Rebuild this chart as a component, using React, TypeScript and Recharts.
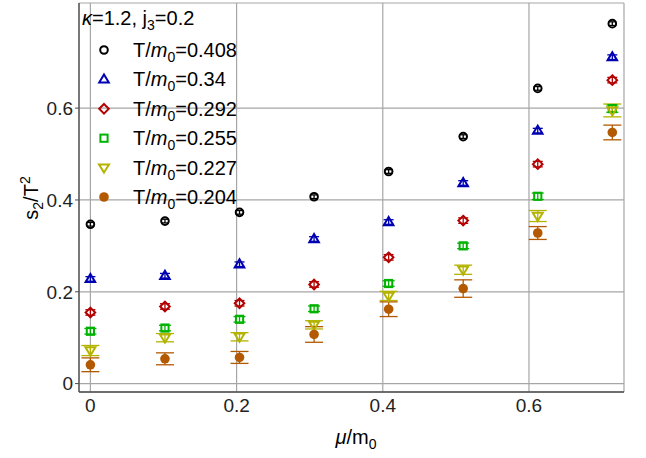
import React from "react";
import {
  ScatterChart,
  Scatter,
  XAxis,
  YAxis,
  CartesianGrid,
  ErrorBar,
  Legend,
} from "recharts";

const mu = [0, 0.102, 0.204, 0.306, 0.408, 0.51, 0.612, 0.714];

const s408 = [0.347, 0.354, 0.373, 0.407, 0.462, 0.538, 0.643, 0.784];
const s340 = [0.228, 0.235, 0.26, 0.315, 0.352, 0.437, 0.551, 0.711];
const s292 = [0.155, 0.168, 0.175, 0.216, 0.275, 0.355, 0.478, 0.661];
const s255 = [0.114, 0.121, 0.14, 0.163, 0.218, 0.3, 0.408, 0.599];
const s227 = [0.072, 0.1, 0.102, 0.128, 0.191, 0.248, 0.365, 0.595];
const s204 = [0.041, 0.054, 0.057, 0.107, 0.162, 0.207, 0.328, 0.547];

const e408 = [0.004, 0.004, 0.004, 0.004, 0.004, 0.004, 0.004, 0.004];
const e340 = [0.005, 0.005, 0.005, 0.005, 0.005, 0.005, 0.005, 0.005];
const e292 = [0.006, 0.006, 0.006, 0.006, 0.006, 0.006, 0.006, 0.006];
const e255 = [0.006, 0.006, 0.006, 0.006, 0.006, 0.006, 0.007, 0.008];
const e227 = [0.011, 0.009, 0.009, 0.009, 0.01, 0.01, 0.012, 0.014];
const e204 = [0.015, 0.013, 0.013, 0.017, 0.016, 0.019, 0.014, 0.016];

const tempLabels = ["0.408", "0.34", "0.292", "0.255", "0.227", "0.204"];

const xTicks = [0, 0.2, 0.4, 0.6];
const yTicks = [0, 0.2, 0.4, 0.6];

const FONT = "'Liberation Sans', Arial, sans-serif";

type Kind = "circle" | "triangle" | "diamond" | "square" | "down" | "dot";

const series: { name: string; values: number[]; errs: number[]; color: string; kind: Kind; cap: number }[] = [
  { name: tempLabels[0], values: s408, errs: e408, color: "#000000", kind: "circle", cap: 4 },
  { name: tempLabels[1], values: s340, errs: e340, color: "#0000b3", kind: "triangle", cap: 5 },
  { name: tempLabels[2], values: s292, errs: e292, color: "#b30000", kind: "diamond", cap: 5 },
  { name: tempLabels[3], values: s255, errs: e255, color: "#00b300", kind: "square", cap: 6 },
  { name: tempLabels[4], values: s227, errs: e227, color: "#b3b300", kind: "down", cap: 9 },
  { name: tempLabels[5], values: s204, errs: e204, color: "#b35900", kind: "dot", cap: 9 },
];

const Marker = ({ cx, cy, kind, color }: { cx: number; cy: number; kind: Kind; color: string }) => {
  if (cx == null || cy == null) return null;
  const sw = 2;
  switch (kind) {
    case "circle":
      return <circle cx={cx} cy={cy} r={3.8} fill="none" stroke={color} strokeWidth={sw} />;
    case "triangle":
      return (
        <path
          d={`M${cx},${cy - 5} L${cx + 4.8},${cy + 3.2} L${cx - 4.8},${cy + 3.2} Z`}
          fill="none"
          stroke={color}
          strokeWidth={sw}
        />
      );
    case "diamond":
      return (
        <path
          d={`M${cx},${cy - 4.8} L${cx + 4.8},${cy} L${cx},${cy + 4.8} L${cx - 4.8},${cy} Z`}
          fill="none"
          stroke={color}
          strokeWidth={sw}
        />
      );
    case "square":
      return <rect x={cx - 3.6} y={cy - 3.6} width={7.2} height={7.2} fill="none" stroke={color} strokeWidth={sw} />;
    case "down":
      return (
        <path
          d={`M${cx},${cy + 5} L${cx + 5},${cy - 3.2} L${cx - 5},${cy - 3.2} Z`}
          fill="none"
          stroke={color}
          strokeWidth={sw}
        />
      );
    default:
      return <circle cx={cx} cy={cy} r={4.8} fill={color} stroke="none" />;
  }
};

const renderLegend = () => (
  <svg width={260} height={215} style={{ fontFamily: FONT }}>
    <text x={82} y={25} fontSize={20} fill="#000">
      <tspan fontStyle="italic">κ</tspan>=1.2, j<tspan dy={5} fontSize={14}>3</tspan>
      <tspan dy={-5}>=0.2</tspan>
    </text>
    {series.map((s, i) => {
      const cy = 50 + i * 29.4;
      return (
        <g key={s.name}>
          <Marker cx={104} cy={cy} kind={s.kind} color={s.color} />
          <text x={133} y={cy + 7} fontSize={20} fill="#000">
            T/<tspan fontStyle="italic">m</tspan>
            <tspan dy={5} fontSize={14}>0</tspan>
            <tspan dy={-5}>={s.name}</tspan>
          </text>
        </g>
      );
    })}
  </svg>
);

const YLabel = () => (
  <text
    x={38}
    y={198}
    transform="rotate(-90, 38, 198)"
    textAnchor="middle"
    fontSize={20}
    fontFamily={FONT}
    fill="#000"
  >
    s<tspan dy={5} fontSize={14}>2</tspan>
    <tspan dy={-5}>/T</tspan>
    <tspan dy={-8} fontSize={14}>2</tspan>
  </text>
);

const XLabel = () => (
  <text x={356} y={444} textAnchor="middle" fontSize={20} fontFamily={FONT} fill="#000">
    <tspan fontStyle="italic">μ</tspan>/m<tspan dy={5} fontSize={14}>0</tspan>
  </text>
);

export default function App() {
  const frame = { stroke: "#4d4d4d", strokeWidth: 1.3 };
  return (
    <div style={{ position: "absolute", left: 0, top: 0, width: 646, height: 458, background: "#fff" }}>
      <ScatterChart width={646} height={458} margin={{ top: 3, right: 22, bottom: 0, left: 0 }}>
        <CartesianGrid stroke="#a6a6a6" strokeWidth={1.2} />
        <XAxis
          type="number"
          dataKey="x"
          domain={[-0.0156, 0.73]}
          ticks={xTicks}
          allowDataOverflow
          height={66}
          tickLine={false}
          tickSize={0}
          tickMargin={7}
          axisLine={frame}
          tick={{ fontSize: 19, fill: "#222", fontFamily: FONT }}
          label={<XLabel />}
        />
        <YAxis
          type="number"
          dataKey="y"
          domain={[-0.0183, 0.829]}
          ticks={yTicks}
          allowDataOverflow
          width={79}
          tickSize={4}
          tickMargin={2}
          tickLine={{ stroke: "#4d4d4d" }}
          axisLine={frame}
          tick={{ fontSize: 19, fill: "#222", fontFamily: FONT }}
          label={<YLabel />}
        />
        <XAxis
          xAxisId="top"
          orientation="top"
          type="number"
          domain={[-0.0156, 0.73]}
          height={0}
          tick={false}
          tickLine={false}
          axisLine={frame}
        />
        <YAxis
          yAxisId="right"
          orientation="right"
          type="number"
          domain={[-0.0183, 0.829]}
          width={0}
          tick={false}
          tickLine={false}
          axisLine={frame}
        />
        {series.map((s) => (
          <Scatter
            key={s.name}
            name={"T/m0=" + s.name}
            data={mu.map((m, i) => ({ x: m, y: s.values[i], err: s.errs[i] }))}
            isAnimationActive={false}
            shape={(p: any) => <Marker cx={p.cx} cy={p.cy} kind={s.kind} color={s.color} />}
          >
            <ErrorBar dataKey="err" direction="y" width={s.cap} stroke={s.color} strokeWidth={1.3} />
          </Scatter>
        ))}
        <Legend
          layout="vertical"
          align="center"
          verticalAlign="middle"
          wrapperStyle={{ left: 0, top: 0, width: 260, height: 215 }}
          content={renderLegend}
        />
      </ScatterChart>
    </div>
  );
}
